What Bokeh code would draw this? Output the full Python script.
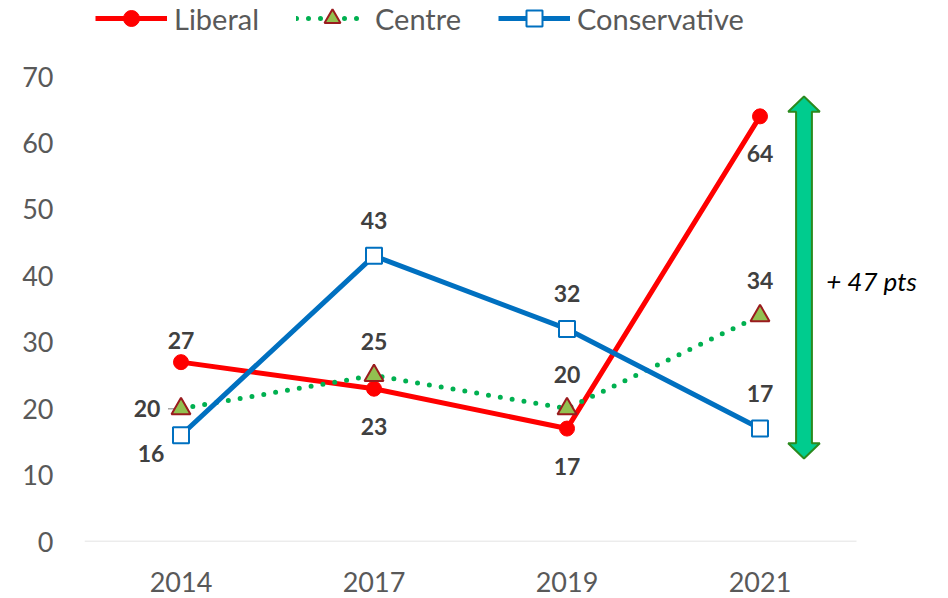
from bokeh.plotting import figure
from bokeh.models import (ColumnDataSource, FixedTicker, Legend, LegendItem, Range1d)
from bokeh.core.properties import value
from bokeh.embed import file_html
from bokeh.resources import INLINE

years = ["2014", "2017", "2019", "2021"]
liberal = [27, 23, 17, 64]
centre = [20, 25, 20, 34]
conservative = [16, 43, 32, 17]
y_ticks = [0, 10, 20, 30, 40, 50, 60, 70]
arrow_from = 12.5
arrow_to = 67
arrow_label = "+ 47 pts"

xs = list(range(len(years)))
FONT = "Lato"

W, H = 944, 596
LEFT, BOTTOM = 84, 55
frame_w, frame_h = W - LEFT, H - BOTTOM
PX_X = 193.0  # px per category
# axis layout: 70 sits 76px below top, categories 193px apart
y_top = 70 * frame_h / (frame_h - 76)
x_right = -0.5 + frame_w / PX_X

p = figure(width=W, height=H, output_backend="svg", toolbar_location=None,
           x_range=Range1d(-0.5, x_right), y_range=Range1d(0, y_top),
           min_border_left=LEFT, min_border_right=0, min_border_top=0, min_border_bottom=BOTTOM)
p.outline_line_color = None
p.background_fill_color = "white"
p.grid.visible = False

p.xaxis.ticker = FixedTicker(ticks=xs)
p.xaxis.major_label_overrides = {i: y for i, y in enumerate(years)}
p.yaxis.ticker = FixedTicker(ticks=y_ticks)
for ax in (p.xaxis, p.yaxis):
    ax.major_tick_line_color = None
    ax.minor_tick_line_color = None
    ax.axis_line_color = None
    ax.major_label_text_font = FONT
    ax.major_label_text_color = "#595959"
    ax.major_label_text_font_size = "27px"
    ax.major_label_text_line_height = 1.0
p.xaxis.major_label_standoff = 24
p.yaxis.major_label_standoff = 25

# category axis baseline
p.segment(x0=[-0.5], y0=[0], x1=[3.5], y1=[0], line_color="#D9D9D9", line_width=1.5)

# arrow (data coordinates)
ax_c = 3.228
sw, hw, hl = 0.041, 0.082, 2.3
arrow_x = [ax_c, ax_c + hw, ax_c + sw, ax_c + sw, ax_c + hw, ax_c, ax_c - hw, ax_c - sw, ax_c - sw, ax_c - hw]
arrow_y = [arrow_to, arrow_to - hl, arrow_to - hl, arrow_from + hl, arrow_from + hl, arrow_from,
           arrow_from + hl, arrow_from + hl, arrow_to - hl, arrow_to - hl]
p.patch(arrow_x, arrow_y, fill_color="#00CC8E", line_color="#2A8A1E", line_width=2)
p.text(x=[ax_c + 0.115], y=[(arrow_from + arrow_to) / 2 - 0.6], text=[arrow_label],
       text_font=value(FONT), text_font_style="italic", text_font_size="26px",
       text_color="black", text_baseline="middle", text_align="left")

# leader line of the first Centre label
p.segment(x0=[xs[0] - 13 / PX_X], y0=[centre[0]], x1=[xs[0] - 4 / PX_X], y1=[centre[0]],
          line_color="#A6A6A6", line_width=1.5)

src = ColumnDataSource(dict(x=xs, lib=liberal, cen=centre, con=conservative))

l_lib = p.line("x", "lib", source=src, line_color="#FF0000", line_width=5)
m_lib = p.scatter("x", "lib", source=src, marker="circle", size=15,
                  fill_color="#FF0000", line_color="#FF0000")
l_cen = p.line("x", "cen", source=src, line_color="#00B050", line_width=5,
               line_dash="0 12", line_cap="round")
m_cen = p.scatter("x", "cen", source=src, marker="triangle", size=19,
                  fill_color="#92C050", line_color="#9A1B1E", line_width=2)
l_con = p.line("x", "con", source=src, line_color="#0070C0", line_width=5)
m_con = p.scatter("x", "con", source=src, marker="square", size=16,
                  fill_color="white", line_color="#0070C0", line_width=2)

# data labels (screen offsets, y positive = down)
lab_style = dict(text_font=value(FONT), text_font_style="bold", text_font_size="23px",
                 text_color="#404040", text_align="center", text_baseline="middle")
p.text(x=xs, y=liberal, text=[str(v) for v in liberal],
       x_offset=[0, 0, 0, 0], y_offset=[-22, 38, 38, 37], **lab_style)
p.text(x=xs, y=centre, text=[str(v) for v in centre],
       x_offset=[-34, 0, 0, 0], y_offset=[0, -34, -34, -35], **lab_style)
p.text(x=xs, y=conservative, text=[str(v) for v in conservative],
       x_offset=[-30, 0, 0, 0], y_offset=[18, -35, -35, -35], **lab_style)

legend = Legend(items=[
    LegendItem(label="Liberal", renderers=[l_lib, m_lib]),
    LegendItem(label="Centre", renderers=[l_cen, m_cen]),
    LegendItem(label="Conservative", renderers=[l_con, m_con]),
], orientation="horizontal", location=(11, frame_h - 38), glyph_width=72, glyph_height=40,
    label_standoff=7, spacing=37, padding=0, margin=0,
    border_line_color=None, background_fill_alpha=0,
    label_text_font=FONT, label_text_font_size="29px", label_text_color="#595959")
p.add_layout(legend, "center")

open("out.html", "w").write(file_html(p, INLINE))
